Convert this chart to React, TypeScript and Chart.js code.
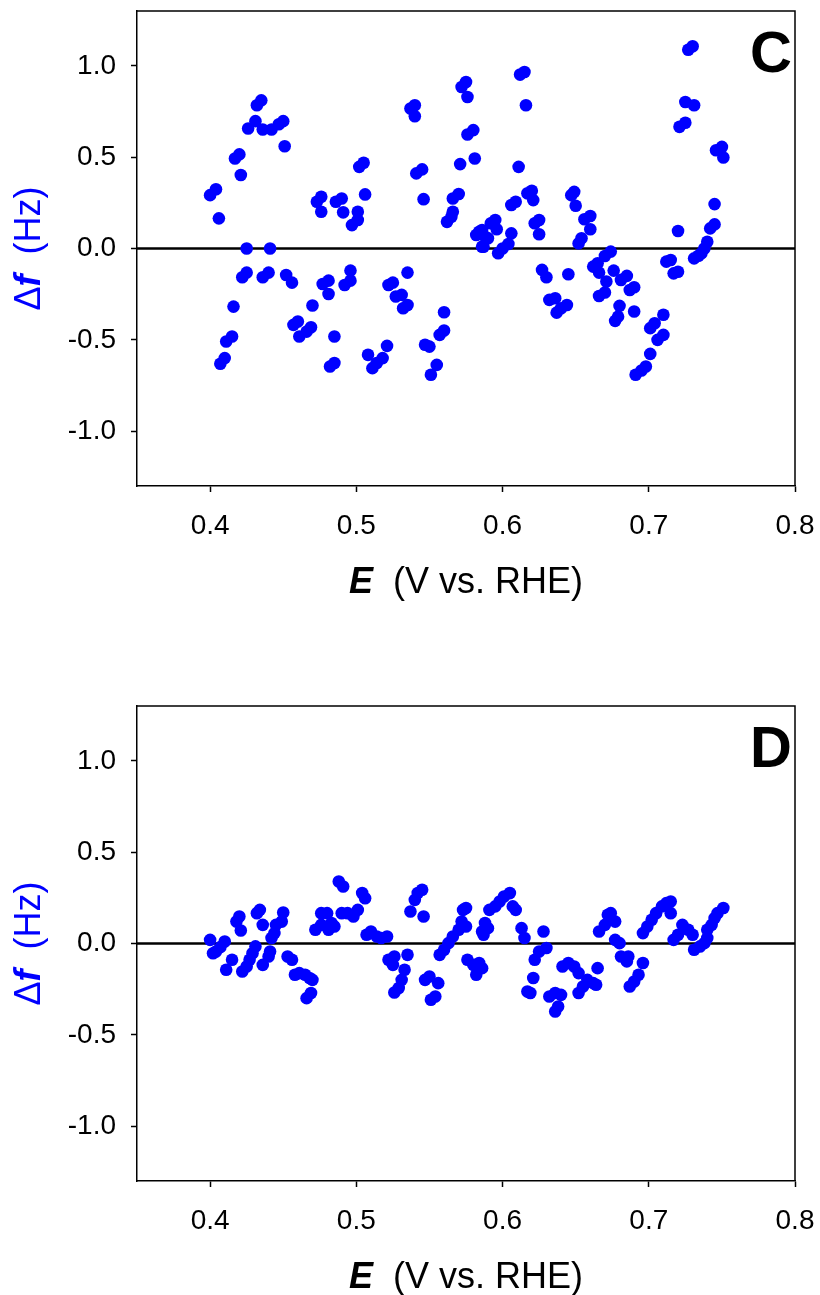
import React, { useEffect, useRef } from "react";
import { Chart, registerables } from "chart.js";

Chart.register(...registerables);

const FONT = "Arial, 'Liberation Sans', Helvetica, sans-serif";
const BLUE = "#0000FF";

// Axis settings
const xTicks = [0.4, 0.5, 0.6, 0.7, 0.8];
const yTicks = [-1.0, -0.5, 0.0, 0.5, 1.0];
const xMin = 0.35;
const xMax = 0.8;
const yMin = -1.3;
const yMax = 1.3;

// Panel C: potential (V vs. RHE)
const cPotential = [
  0.400, 0.404, 0.406, 0.417, 0.420, 0.421, 0.432, 0.435,
  0.426, 0.431, 0.436, 0.442, 0.447, 0.450, 0.451, 0.425, 0.441,
  0.422, 0.425, 0.436, 0.440, 0.452, 0.456, 0.416, 0.411, 0.415,
  0.407, 0.410, 0.457, 0.460, 0.461, 0.466, 0.469, 0.470,
  0.477, 0.481, 0.481, 0.492, 0.496, 0.496, 0.485, 0.482, 0.485,
  0.473, 0.476, 0.476, 0.486, 0.490, 0.491, 0.497, 0.501, 0.501,
  0.502, 0.505, 0.506, 0.537, 0.540, 0.540, 0.541, 0.545, 0.546,
  0.572, 0.575, 0.576, 0.576, 0.580, 0.571, 0.581, 0.566, 0.570,
  0.562, 0.565, 0.566, 0.582, 0.586, 0.586, 0.535,
  0.522, 0.525, 0.527, 0.531, 0.532, 0.535, 0.560, 0.557, 0.560,
  0.547, 0.550, 0.551, 0.555, 0.508, 0.511, 0.514, 0.518, 0.521,
  0.612, 0.615, 0.616, 0.611, 0.727, 0.730, 0.725, 0.731, 0.721, 0.725,
  0.746, 0.750, 0.751, 0.745, 0.720, 0.742, 0.745,
  0.740, 0.738, 0.736, 0.734, 0.731, 0.712, 0.715, 0.717, 0.720,
  0.710, 0.701, 0.704, 0.706, 0.710, 0.701, 0.691, 0.695, 0.698,
  0.606, 0.609, 0.617, 0.620, 0.621, 0.622, 0.625, 0.625,
  0.592, 0.595, 0.596, 0.584, 0.588, 0.590, 0.587,
  0.597, 0.600, 0.604, 0.606, 0.647, 0.649, 0.650,
  0.656, 0.660, 0.660, 0.654, 0.652, 0.670, 0.674,
  0.662, 0.665, 0.666, 0.676, 0.671, 0.666, 0.670,
  0.681, 0.685, 0.687, 0.690, 0.680, 0.677, 0.679, 0.690,
  0.627, 0.630, 0.645, 0.632, 0.636, 0.637, 0.640, 0.644,
];

// Panel C: frequency change (Hz)
const cDeltaF = [
  0.292, 0.324, 0.165, 0.493, 0.515, 0.402, 0.784, 0.811,
  0.657, 0.697, 0.651, 0.651, 0.680, 0.697, 0.560, 0.000, 0.000,
  -0.157, -0.132, -0.157, -0.132, -0.145, -0.187, -0.318, -0.509, -0.482,
  -0.631, -0.600, -0.418, -0.400, -0.482, -0.455, -0.431, -0.312,
  -0.194, -0.176, -0.249, -0.200, -0.176, -0.121, -0.482, -0.646, -0.627,
  0.256, 0.283, 0.201, 0.256, 0.274, 0.198, 0.128, 0.156, 0.201,
  0.447, 0.469, 0.296, 0.766, 0.784, 0.724, 0.411, 0.433, 0.270,
  0.884, 0.911, 0.829, 0.624, 0.648, 0.462, 0.493, 0.274, 0.298,
  0.146, 0.174, 0.201, 0.074, 0.101, 0.010, -0.132,
  -0.200, -0.187, -0.263, -0.254, -0.327, -0.309, -0.349, -0.473, -0.449,
  -0.527, -0.537, -0.691, -0.637, -0.582, -0.655, -0.627, -0.600, -0.533,
  0.952, 0.966, 0.784, 0.447, 1.088, 1.107, 0.802, 0.784, 0.666, 0.688,
  0.538, 0.556, 0.498, 0.243, 0.096, 0.110, 0.132,
  0.037, 0.000, -0.026, -0.040, -0.054, -0.072, -0.063, -0.136, -0.127,
  -0.363, -0.436, -0.409, -0.500, -0.473, -0.577, -0.691, -0.668, -0.646,
  0.238, 0.256, 0.302, 0.316, 0.265, 0.138, 0.156, 0.078,
  0.138, 0.156, 0.105, 0.092, 0.065, 0.056, 0.010,
  -0.026, 0.000, 0.025, 0.083, 0.292, 0.310, 0.234,
  0.160, 0.178, 0.105, 0.056, 0.028, -0.041, -0.017,
  -0.099, -0.081, -0.132, -0.121, -0.181, -0.260, -0.241,
  -0.172, -0.150, -0.227, -0.212, -0.314, -0.396, -0.373, -0.345,
  -0.117, -0.157, -0.141, -0.281, -0.272, -0.351, -0.327, -0.309,
];

// Panel D: potential (V vs. RHE)
const dPotential = [
  0.400, 0.402, 0.410, 0.407, 0.404, 0.411, 0.415,
  0.418, 0.420, 0.421, 0.422, 0.425, 0.427, 0.429, 0.431,
  0.432, 0.434, 0.436, 0.436, 0.440, 0.441,
  0.442, 0.444, 0.445, 0.449, 0.450, 0.453, 0.456,
  0.458, 0.461, 0.465, 0.468, 0.470, 0.466, 0.469,
  0.472, 0.476, 0.480, 0.476, 0.483, 0.485, 0.481,
  0.488, 0.491, 0.490, 0.494, 0.498, 0.501, 0.504, 0.506,
  0.507, 0.510, 0.514, 0.517, 0.521, 0.522, 0.526, 0.525, 0.535,
  0.533, 0.531, 0.529, 0.526, 0.537, 0.540, 0.542, 0.545, 0.546,
  0.547, 0.550, 0.556, 0.551, 0.554,
  0.557, 0.560, 0.563, 0.566, 0.570, 0.572, 0.573, 0.575, 0.575,
  0.576, 0.580, 0.582, 0.586, 0.586, 0.588, 0.584, 0.587, 0.590,
  0.591, 0.595, 0.598, 0.601, 0.605, 0.607, 0.609, 0.613, 0.615,
  0.628, 0.630, 0.625, 0.622, 0.621, 0.617, 0.619,
  0.632, 0.636, 0.640, 0.638, 0.636, 0.641, 0.645, 0.649, 0.652,
  0.652, 0.655, 0.658, 0.662, 0.664, 0.665,
  0.666, 0.670, 0.672, 0.674, 0.677, 0.677, 0.680, 0.681, 0.685, 0.686,
  0.687, 0.690, 0.693, 0.696,
  0.696, 0.699, 0.702, 0.705, 0.709, 0.712, 0.715, 0.715,
  0.717, 0.720, 0.723, 0.727, 0.730, 0.731, 0.735, 0.738, 0.740,
  0.740, 0.743, 0.745, 0.747, 0.751,
];

// Panel D: frequency change (Hz)
const dDeltaF = [
  0.020, -0.053, 0.011, -0.020, -0.044, -0.144, -0.089,
  0.120, 0.148, 0.071, -0.153, -0.126, -0.089, -0.053, -0.016,
  0.166, 0.184, 0.102, -0.117, -0.071, -0.044,
  0.030, 0.057, 0.102, 0.120, 0.170, -0.071, -0.089,
  -0.171, -0.162, -0.171, -0.189, -0.199, -0.299, -0.271,
  0.075, 0.102, 0.166, 0.166, 0.112, 0.093, 0.075,
  0.339, 0.312, 0.166, 0.166, 0.148, 0.184, 0.276, 0.248,
  0.048, 0.066, 0.038, 0.030, 0.038, -0.089, -0.071, -0.117, -0.062,
  -0.144, -0.199, -0.244, -0.268, 0.175, 0.239, 0.276, 0.294, 0.148,
  -0.199, -0.181, -0.217, -0.308, -0.290,
  -0.062, -0.034, 0.002, 0.038, 0.075, 0.120, 0.184, 0.093, 0.194,
  -0.089, -0.117, -0.171, -0.135, 0.066, 0.112, -0.107, 0.048, 0.084,
  0.184, 0.203, 0.230, 0.257, 0.276, 0.203, 0.184, 0.084, 0.030,
  0.066, -0.025, -0.044, -0.089, -0.189, -0.263, -0.271,
  -0.290, -0.271, -0.281, -0.345, -0.372, -0.126, -0.107, -0.126, -0.162,
  -0.271, -0.235, -0.199, -0.217, -0.226, -0.135,
  0.066, 0.102, 0.157, 0.166, 0.120, 0.020, 0.002, -0.071, -0.098, -0.071,
  -0.235, -0.208, -0.171, -0.107,
  0.057, 0.093, 0.130, 0.166, 0.203, 0.221, 0.230, 0.166,
  0.020, 0.048, 0.102, 0.075, 0.048, -0.034, -0.016, 0.002, 0.030,
  0.075, 0.102, 0.139, 0.166, 0.194,
];

type Seg = { text: string; font: string };

function drawSegments(ctx: CanvasRenderingContext2D, segs: Seg[], cx: number, baseline: number, color: string) {
  let total = 0;
  const widths = segs.map((s) => {
    ctx.font = s.font;
    const w = ctx.measureText(s.text).width;
    total += w;
    return w;
  });
  let x = cx - total / 2;
  ctx.fillStyle = color;
  ctx.textAlign = "left";
  ctx.textBaseline = "alphabetic";
  segs.forEach((s, i) => {
    ctx.font = s.font;
    ctx.fillText(s.text, x, baseline);
    x += widths[i];
  });
}

function makeConfig(xs: number[], ys: number[], letter: string, padTop: number, xAxisHeight: number): any {
  const points = xs.map((x, i) => ({ x, y: ys[i] }));
  const decor = {
    id: "panelDecor" + letter,
    beforeDatasetsDraw(chart: any) {
      const { ctx, chartArea: a, scales } = chart;
      const y0 = scales.y.getPixelForValue(0);
      ctx.save();
      ctx.strokeStyle = "#000";
      ctx.lineWidth = 2.5;
      ctx.beginPath();
      ctx.moveTo(a.left, y0);
      ctx.lineTo(a.right, y0);
      ctx.stroke();
      ctx.restore();
    },
    afterDraw(chart: any) {
      const { ctx, chartArea: a } = chart;
      ctx.save();
      // top & right frame
      ctx.strokeStyle = "#000";
      ctx.lineWidth = 1.5;
      ctx.beginPath();
      ctx.moveTo(a.left, a.top);
      ctx.lineTo(a.right, a.top);
      ctx.lineTo(a.right, a.bottom);
      ctx.stroke();
      // panel letter
      ctx.font = `bold 58px ${FONT}`;
      ctx.fillStyle = "#000";
      ctx.textAlign = "right";
      ctx.textBaseline = "alphabetic";
      ctx.fillText(letter, a.right - 3, a.top + 61);
      // x title
      drawSegments(
        ctx,
        [
          { text: "E", font: `italic bold 36px ${FONT}` },
          { text: "  (V vs. RHE)", font: `36px ${FONT}` },
        ],
        (a.left + a.right) / 2,
        a.bottom + 106.5,
        "#000"
      );
      // y title
      ctx.translate(40, (a.top + a.bottom) / 2);
      ctx.rotate(-Math.PI / 2);
      drawSegments(
        ctx,
        [
          { text: "\u0394", font: `36px ${FONT}` },
          { text: "f", font: `italic bold 36px ${FONT}` },
          { text: "  (Hz)", font: `36px ${FONT}` },
        ],
        0,
        0,
        BLUE
      );
      ctx.restore();
    },
  };

  return {
    type: "scatter",
    data: {
      datasets: [
        {
          data: points,
          backgroundColor: BLUE,
          borderWidth: 0,
          pointRadius: 6.3,
          pointHoverRadius: 6.3,
        },
      ],
    },
    options: {
      responsive: false,
      animation: false,
      devicePixelRatio: 1,
      events: [],
      layout: { padding: { top: padTop, right: 25, left: 0, bottom: 0 } },
      plugins: { legend: { display: false }, tooltip: { enabled: false } },
      scales: {
        x: {
          type: "linear",
          min: xMin,
          max: xMax,
          afterBuildTicks: (s: any) => {
            s.ticks = xTicks.map((v) => ({ value: v }));
          },
          afterFit: (s: any) => {
            s.height = xAxisHeight;
            s.paddingLeft = 0;
            s.paddingRight = 0;
            s.paddingTop = 0;
            s.paddingBottom = 0;
          },
          grid: { drawOnChartArea: false, drawTicks: true, tickLength: 6, tickColor: "#000", tickWidth: 1.5 },
          border: { display: true, color: "#000", width: 1.5 },
          ticks: {
            color: "#000",
            font: { family: FONT, size: 28 },
            padding: 17,
            maxRotation: 0,
            autoSkip: false,
            callback: (v: any) => Number(v).toFixed(1),
          },
        },
        y: {
          type: "linear",
          min: yMin,
          max: yMax,
          afterBuildTicks: (s: any) => {
            s.ticks = yTicks.map((v) => ({ value: v }));
          },
          afterFit: (s: any) => {
            s.width = 137;
            s.paddingLeft = 0;
            s.paddingRight = 0;
            s.paddingTop = 0;
            s.paddingBottom = 0;
          },
          grid: { drawOnChartArea: false, drawTicks: true, tickLength: 6, tickColor: "#000", tickWidth: 1.5 },
          border: { display: true, color: "#000", width: 1.5 },
          ticks: {
            color: "#000",
            font: { family: FONT, size: 28 },
            padding: 15,
            autoSkip: false,
            callback: (v: any) => Number(v).toFixed(1),
          },
        },
      },
    },
    plugins: [decor],
  };
}

export default function App() {
  const refC = useRef<HTMLCanvasElement | null>(null);
  const refD = useRef<HTMLCanvasElement | null>(null);

  useEffect(() => {
    const chartC = new Chart(refC.current as HTMLCanvasElement, makeConfig(cPotential, cDeltaF, "C", 11, 161));
    const chartD = new Chart(refD.current as HTMLCanvasElement, makeConfig(dPotential, dDeltaF, "D", 59, 114));
    return () => {
      chartC.destroy();
      chartD.destroy();
    };
  }, []);

  return (
    <div style={{ position: "absolute", left: 0, top: 0, width: 820, height: 1295, background: "#fff" }}>
      <canvas
        ref={refC}
        width={820}
        height={647}
        style={{ position: "absolute", left: 0, top: 0, width: 820, height: 647, display: "block" }}
      />
      <canvas
        ref={refD}
        width={820}
        height={648}
        style={{ position: "absolute", left: 0, top: 647, width: 820, height: 648, display: "block" }}
      />
    </div>
  );
}
